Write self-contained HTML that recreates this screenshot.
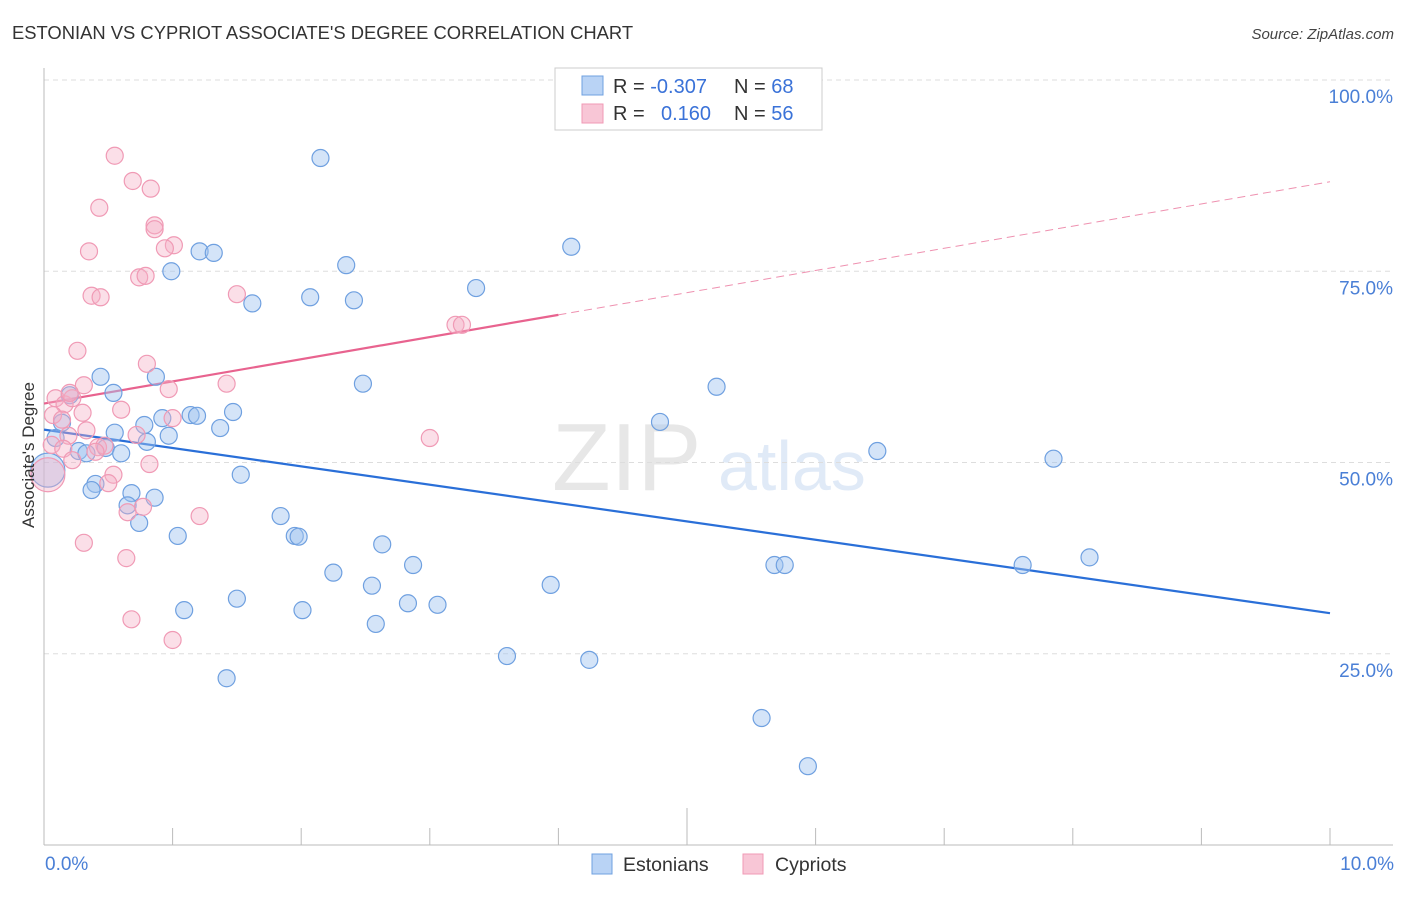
<!DOCTYPE html>
<html><head><meta charset="utf-8"><style>
body{margin:0;background:#fff;font-family:"Liberation Sans",sans-serif}
svg text{font-family:"Liberation Sans",sans-serif}
</style></head><body>
<svg id="chart" width="1406" height="892" viewBox="0 0 1406 892" xmlns="http://www.w3.org/2000/svg">
<text x="12" y="39" font-size="18.4" fill="#333">ESTONIAN VS CYPRIOT ASSOCIATE'S DEGREE CORRELATION CHART</text>
<text x="1394" y="39" font-size="15" fill="#444" text-anchor="end" font-style="italic">Source: ZipAtlas.com</text>
<g opacity="0.35">
<text x="552" y="490" font-size="96" fill="#bbb" font-family="Liberation Serif,serif">ZIP</text>
<text x="718" y="490" font-size="70" fill="#a9c4ea">atlas</text>
</g>
<g id="grid"></g>
<g id="axes"></g>
<g id="lines"></g>
<g id="points"></g>
<text transform="translate(34,455) rotate(-90)" font-size="17" fill="#333" text-anchor="middle">Associate's Degree</text>
<text x="45" y="870" font-size="19" fill="#4a7fd6">0.0%</text>
<text x="1394" y="870" font-size="19" fill="#4a7fd6" text-anchor="end">10.0%</text>
<g>
<rect x="555" y="68" width="267" height="62" fill="#fff" stroke="#ccc"/>
<rect x="582" y="76" width="21" height="19" fill="#b9d3f5" stroke="#6fa0e0"/>
<rect x="582" y="104" width="21" height="19" fill="#f8c6d6" stroke="#f09ab5"/>
<text x="613" y="93" font-size="20" fill="#333">R = <tspan fill="#3a72d8">-0.307</tspan></text>
<text x="734" y="93" font-size="20" fill="#333">N = <tspan fill="#3a72d8">68</tspan></text>
<text x="613" y="120" font-size="20" fill="#333">R = <tspan fill="#3a72d8" x="661">0.160</tspan></text>
<text x="734" y="120" font-size="20" fill="#333">N = <tspan fill="#3a72d8">56</tspan></text>
</g>
<g>
<rect x="592" y="854" width="20" height="20" fill="#b9d3f5" stroke="#6fa0e0"/>
<text x="623" y="871" font-size="19.5" fill="#333">Estonians</text>
<rect x="743" y="854" width="20" height="20" fill="#f8c6d6" stroke="#f09ab5"/>
<text x="775" y="871" font-size="19.5" fill="#333">Cypriots</text>
</g>
</svg>
<script>
const yTicks=[100,75,50,25];
const yTickLabels=["100.0%","75.0%","50.0%","25.0%"];
const xTicks=[0,1,2,3,4,5,6,7,8,9,10];
const estX=[2.15,4.10,1.21,1.32,0.99,2.35,3.36,1.62,2.07,2.41,0.87,0.44,2.48,5.23,0.54,0.20,1.47,0.92,1.14,1.19,0.78,1.37,4.79,0.14,0.55,0.97,0.80,0.09,6.48,0.27,0.33,0.48,0.60,7.85,1.53,0.40,0.37,0.68,0.86,0.65,0.74,1.84,1.04,1.95,1.98,2.63,2.87,2.25,3.94,5.68,5.76,7.61,8.13,2.55,1.50,2.83,3.06,1.09,2.01,2.58,3.60,4.24,1.42,5.58,5.94,0.03];
const estY=[89.8,78.2,77.6,77.4,75.0,75.8,72.8,70.8,71.6,71.2,61.2,61.2,60.3,59.9,59.1,58.8,56.6,55.8,56.2,56.1,54.9,54.5,55.3,55.2,53.9,53.5,52.7,53.2,51.5,51.5,51.2,51.9,51.2,50.5,48.4,47.2,46.4,46.0,45.4,44.4,42.1,43.0,40.4,40.4,40.3,39.3,36.6,35.6,34.0,36.6,36.6,36.6,37.6,33.9,32.2,31.6,31.4,30.7,30.7,28.9,24.7,24.2,21.8,16.6,10.3,49.0];
const cypX=[0.55,0.69,0.83,0.43,0.86,0.86,1.01,0.94,0.35,0.74,0.79,0.37,0.44,1.50,3.20,3.25,0.26,0.80,0.31,0.97,1.42,0.60,0.09,0.16,0.22,0.07,0.30,0.14,0.19,0.33,0.72,1.00,0.06,0.42,0.15,3.00,0.22,0.47,0.40,0.82,0.54,0.50,0.65,0.77,1.21,0.31,0.64,0.68,1.00,0.03,0.20];
const cypY=[90.1,86.8,85.8,83.3,81.0,80.5,78.4,78.0,77.6,74.2,74.4,71.8,71.6,72.0,68.0,68.0,64.6,62.9,60.1,59.6,60.3,56.9,58.4,57.6,58.4,56.2,56.5,55.6,53.5,54.2,53.6,55.8,52.3,52.0,51.8,53.2,50.3,52.2,51.4,49.8,48.4,47.3,43.5,44.2,43.0,39.5,37.5,29.5,26.8,48.4,59.1];
const estBig=[65];
const cypBig=[49];
const estLine=[54.3,30.3];
const cypLine=[57.7,86.7];
const cypSolidEnd=4.0;
{
const NS="http://www.w3.org/2000/svg";
const xs=v=>44+v/10*1286;
const ys=v=>845-v/100*765;
function mk(t,a,p){const e=document.createElementNS(NS,t);for(const k in a)e.setAttribute(k,a[k]);p.appendChild(e);return e;}
const grid=document.getElementById('grid'),axes=document.getElementById('axes'),lines=document.getElementById('lines'),pts=document.getElementById('points');
yTicks.forEach((t,i)=>{
 const l=mk('line',{x1:44,x2:1393,y1:ys(t),y2:ys(t),stroke:'#ddd','stroke-dasharray':'5,4'},grid);
 
 
 const tx=mk('text',{x:1393,y:ys(t)+23,'font-size':19,fill:'#4a7fd6','text-anchor':'end'},grid);
 tx.textContent=yTickLabels[i];
 
 
});
const ya=mk('line',{x1:44,x2:44,y1:68,y2:845,stroke:'#bbb'},axes);


const xa=mk('line',{x1:44,x2:1393,y1:845,y2:845,stroke:'#bbb'},axes);


xTicks.forEach(t=>{
 const tk=mk('line',{x1:xs(t),x2:xs(t),y1:t===5?808:828,y2:845,stroke:'#bbb'},axes);
 
 
});
function dots(X,Y,big,fill,stroke,name){
 X.forEach((x,i)=>{
  const c=mk('circle',{cx:xs(x),cy:ys(Y[i]),r:big.includes(i)?17:8.5,fill:fill,stroke:stroke,'stroke-width':1.2},pts);
  
  
 });
}
dots(estX,estY,estBig,'rgba(160,196,240,0.45)','#6fa0e0','estonian-point');
dots(cypX,cypY,cypBig,'rgba(245,175,198,0.4)','#f09ab5','cypriot-point');
const bl=mk('line',{x1:xs(0),y1:ys(estLine[0]),x2:xs(10),y2:ys(estLine[1]),stroke:'#2a6fd8','stroke-width':2.2},lines);


const cy=v=>cypLine[0]+(cypLine[1]-cypLine[0])*v/10;
const pl=mk('line',{x1:xs(0),y1:ys(cy(0)),x2:xs(cypSolidEnd),y2:ys(cy(cypSolidEnd)),stroke:'#e8638f','stroke-width':2.2},lines);


const pd=mk('line',{x1:xs(cypSolidEnd),y1:ys(cy(cypSolidEnd)),x2:xs(10),y2:ys(cy(10)),stroke:'#e8638f','stroke-width':1,'stroke-dasharray':'8,5',opacity:0.7},lines);


}
</script>
</body></html>
